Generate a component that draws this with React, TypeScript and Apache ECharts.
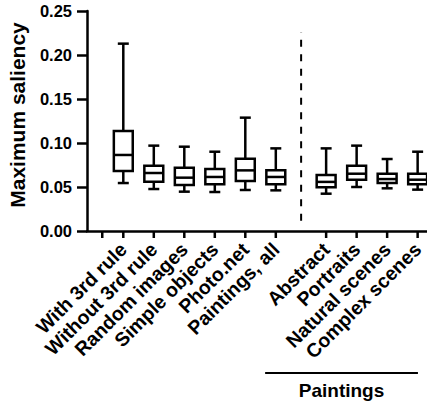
import React, { useEffect, useRef } from "react";
import * as echarts from "echarts";

const categories = [
  "With 3rd rule",
  "Without 3rd rule",
  "Random images",
  "Simple objects",
  "Photo.net",
  "Paintings, all",
  "Abstract",
  "Portraits",
  "Natural scenes",
  "Complex scenes",
];
const positions = [0, 1, 2, 3, 4, 5, 6.65, 7.65, 8.65, 9.65];
const extraTicks = [-0.69];
const whiskerLow = [0.0545, 0.0477, 0.0447, 0.0443, 0.0466, 0.0462, 0.0424, 0.05, 0.0485, 0.047];
const q1 = [0.0682, 0.056, 0.0523, 0.0531, 0.0568, 0.053, 0.0498, 0.0583, 0.0545, 0.053];
const median = [0.0864, 0.0659, 0.0606, 0.0614, 0.0689, 0.0614, 0.0558, 0.0651, 0.059, 0.0583];
const q3 = [0.1136, 0.0742, 0.072, 0.0705, 0.0822, 0.0689, 0.0636, 0.0742, 0.0651, 0.0651];
const whiskerHigh = [0.2129, 0.097, 0.0958, 0.0901, 0.1288, 0.0939, 0.0939, 0.097, 0.0818, 0.0901];
const dividerPos = 5.83;
const dividerRange = [0.0117, 0.226];
const groupLabel = "Paintings";
const groupRange = [4.65, 9.66];

const FONT = "'Liberation Sans', Arial, sans-serif";
const LW = 2.5;

export default function App() {
  const ref = useRef<HTMLDivElement>(null);
  useEffect(() => {
    if (!ref.current) return;
    const chart = echarts.init(ref.current, null, { renderer: "svg" });
    const boxData = positions.map((p, i) => [p, whiskerLow[i], q1[i], median[i], q3[i], whiskerHigh[i]]);
    const tickData = [...extraTicks, ...positions].map((p) => [p]);
    const nameAt = (v: number) => {
      const i = positions.findIndex((p) => Math.abs(p - v) < 1e-6);
      return i >= 0 ? categories[i] : "";
    };
    chart.setOption({
      animation: false,
      grid: { left: 87, right: 0, top: 11, bottom: 172, containLabel: false },
      xAxis: {
        type: "value",
        min: -1.19,
        max: 9.957,
        axisLine: { show: true, lineStyle: { color: "#000", width: LW }, onZero: false },
        axisTick: { show: false },
        axisLabel: {
          show: true,
          customValues: positions,
          formatter: (v: number) => nameAt(v),
          rotate: 45,
          margin: 15,
          color: "#000",
          fontFamily: FONT,
          fontWeight: "bold",
          fontSize: 19.5,
        },
        splitLine: { show: false },
      },
      yAxis: {
        type: "value",
        min: 0,
        max: 0.25,
        interval: 0.05,
        axisLine: { show: true, onZero: false, lineStyle: { color: "#000", width: LW } },
        axisTick: { show: true, length: 10, lineStyle: { color: "#000", width: LW } },
        axisLabel: {
          margin: 15,
          color: "#000",
          fontFamily: FONT,
          fontWeight: "bold",
          fontSize: 16.5,
          formatter: (v: number) => v.toFixed(2),
        },
        splitLine: { show: false },
      },
      graphic: [
        {
          type: "text",
          x: 17,
          y: 115,
          rotation: Math.PI / 2,
          style: {
            text: "Maximum saliency",
            align: "center",
            verticalAlign: "middle",
            fill: "#000",
            font: `bold 21px ${FONT}`,
          },
        },
      ],
      series: [
        {
          type: "custom",
          clip: false,
          data: tickData,
          renderItem: (params: any, api: any) => {
            const p = api.coord([api.value(0), 0]);
            return {
              type: "line",
              shape: { x1: p[0], y1: p[1], x2: p[0], y2: p[1] + 7 },
              style: { stroke: "#000", lineWidth: LW },
            };
          },
        },
        {
          type: "custom",
          clip: false,
          data: boxData,
          renderItem: (params: any, api: any) => {
            const x = api.value(0);
            const lo = api.coord([x, api.value(1)]);
            const b1 = api.coord([x, api.value(2)]);
            const md = api.coord([x, api.value(3)]);
            const b3 = api.coord([x, api.value(4)]);
            const hi = api.coord([x, api.value(5)]);
            const unit = api.size([1, 0])[0];
            const hw = unit * 0.31;
            const cw = unit * 0.18;
            const cx = lo[0];
            const st = { stroke: "#000", lineWidth: LW, fill: "none" };
            return {
              type: "group",
              children: [
                { type: "line", shape: { x1: cx, y1: hi[1], x2: cx, y2: b3[1] }, style: st },
                { type: "line", shape: { x1: cx, y1: b1[1], x2: cx, y2: lo[1] }, style: st },
                { type: "line", shape: { x1: cx - cw, y1: hi[1], x2: cx + cw, y2: hi[1] }, style: st },
                { type: "line", shape: { x1: cx - cw, y1: lo[1], x2: cx + cw, y2: lo[1] }, style: st },
                {
                  type: "rect",
                  shape: { x: cx - hw, y: b3[1], width: hw * 2, height: b1[1] - b3[1] },
                  style: { stroke: "#000", lineWidth: LW, fill: "#fff" },
                },
                { type: "line", shape: { x1: cx - hw, y1: md[1], x2: cx + hw, y2: md[1] }, style: st },
              ],
            };
          },
        },
        {
          type: "custom",
          clip: false,
          data: [[dividerPos, dividerRange[0], dividerRange[1]]],
          renderItem: (params: any, api: any) => {
            const x = api.value(0);
            const a = api.coord([x, api.value(1)]);
            const b = api.coord([x, api.value(2)]);
            return {
              type: "line",
              shape: { x1: a[0], y1: a[1], x2: b[0], y2: b[1] },
              style: { stroke: "#000", lineWidth: 2, lineDash: [7, 7.5] },
            };
          },
        },
        {
          type: "custom",
          clip: false,
          data: [[groupRange[0], groupRange[1]]],
          renderItem: (params: any, api: any) => {
            const a = api.coord([api.value(0), 0]);
            const b = api.coord([api.value(1), 0]);
            const ly = a[1] + 142;
            return {
              type: "group",
              children: [
                {
                  type: "line",
                  shape: { x1: a[0], y1: ly, x2: b[0], y2: ly },
                  style: { stroke: "#000", lineWidth: 2 },
                },
                {
                  type: "text",
                  x: (a[0] + b[0]) / 2,
                  y: ly + 17,
                  style: {
                    text: groupLabel,
                    align: "center",
                    verticalAlign: "middle",
                    fill: "#000",
                    font: `bold 19px ${FONT}`,
                  },
                },
              ],
            };
          },
        },
      ],
    });
    return () => chart.dispose();
  }, []);
  return (
    <div
      ref={ref}
      style={{ position: "fixed", left: 0, top: 0, width: 427, height: 403, background: "#fff" }}
    />
  );
}
